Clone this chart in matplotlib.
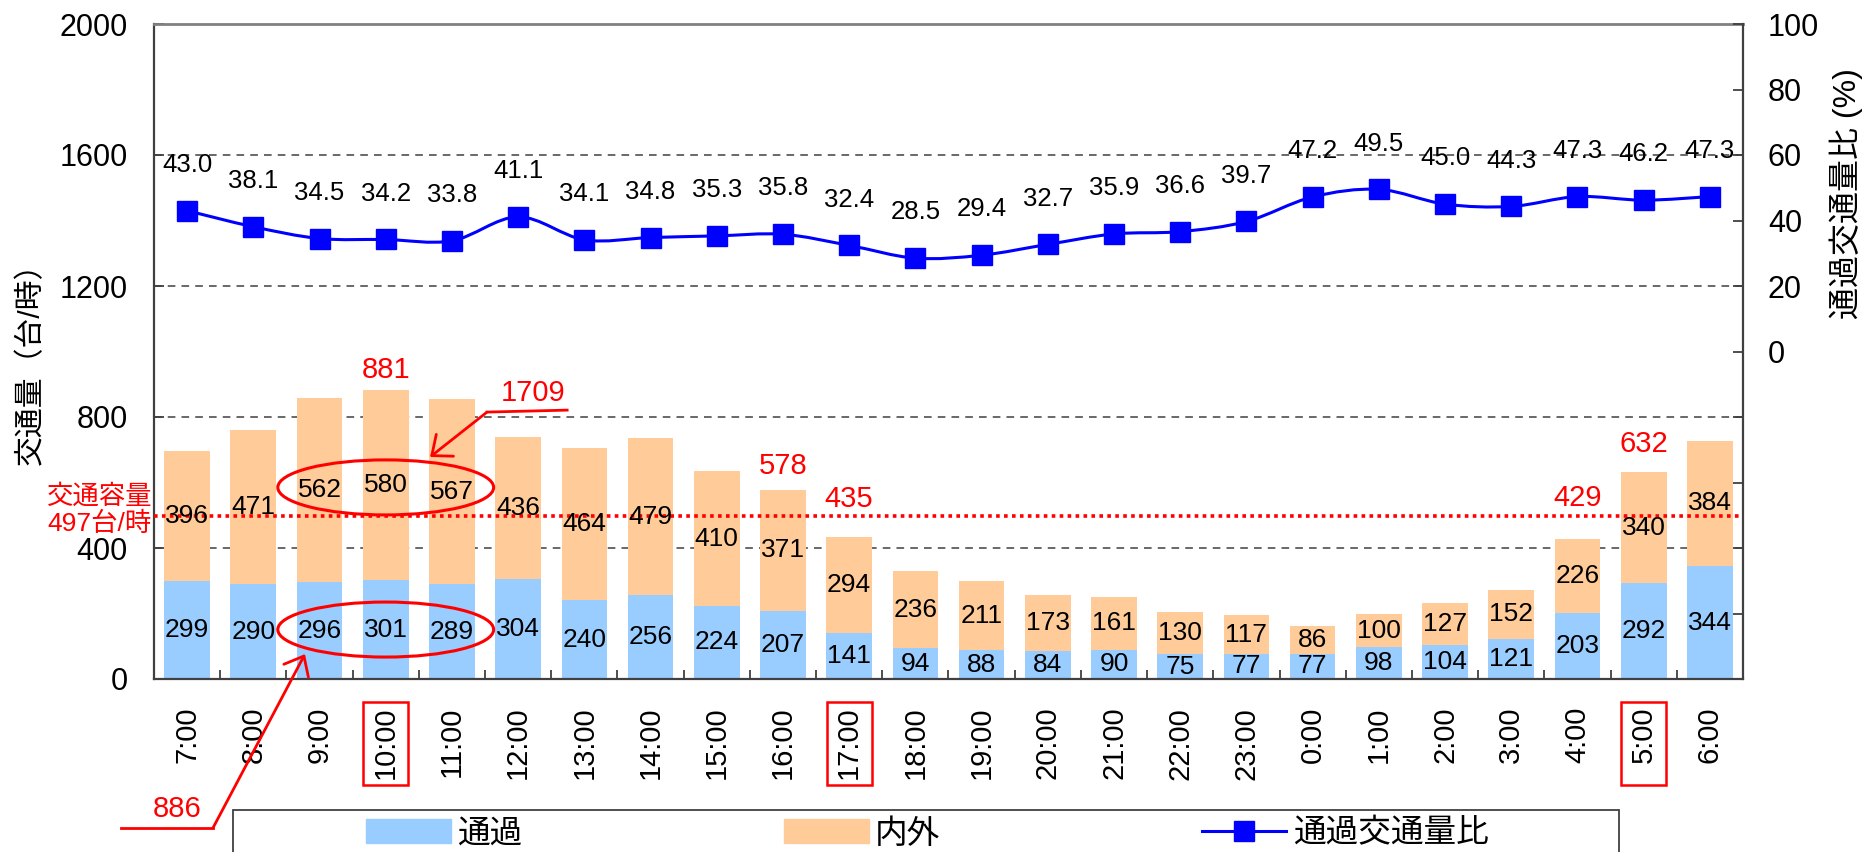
import matplotlib
matplotlib.use("Agg")
import matplotlib.pyplot as plt
import numpy as np
from matplotlib.patches import Ellipse, Rectangle, PathPatch, Patch
from matplotlib.path import Path
from matplotlib.lines import Line2D
from matplotlib.transforms import blended_transform_factory

plt.rcParams['font.family'] = ['Liberation Sans', 'Noto Sans CJK JP']

# data
hours = ['7:00', '8:00', '9:00', '10:00', '11:00', '12:00', '13:00', '14:00',
         '15:00', '16:00', '17:00', '18:00', '19:00', '20:00', '21:00', '22:00',
         '23:00', '0:00', '1:00', '2:00', '3:00', '4:00', '5:00', '6:00']
through = [299, 290, 296, 301, 289, 304, 240, 256, 224, 207, 141, 94,
           88, 84, 90, 75, 77, 77, 98, 104, 121, 203, 292, 344]
local = [396, 471, 562, 580, 567, 436, 464, 479, 410, 371, 294, 236,
         211, 173, 161, 130, 117, 86, 100, 127, 152, 226, 340, 384]
ratio = [43.0, 38.1, 34.5, 34.2, 33.8, 41.1, 34.1, 34.8, 35.3, 35.8, 32.4, 28.5,
         29.4, 32.7, 35.9, 36.6, 39.7, 47.2, 49.5, 45.0, 44.3, 47.3, 46.2, 47.3]
capacity = 497
total_hours = ['10:00', '16:00', '17:00', '4:00', '5:00']
boxed_hours = ['10:00', '17:00', '5:00']
group_hours = ['9:00', '10:00', '11:00']

c_through = '#99CCFF'
c_local = '#FFCC99'
c_line = '#0000FF'
red = '#FF0000'


def smooth_path(xs, ys):
    # excel-like smoothed line, drawn as bezier segments
    pts = np.column_stack([xs, ys]).astype(float)
    n = len(pts)
    verts = [pts[0]]
    codes = [Path.MOVETO]
    for i in range(n - 1):
        p0 = pts[max(i - 1, 0)]
        p1 = pts[i]
        p2 = pts[i + 1]
        p3 = pts[min(i + 2, n - 1)]
        verts += [p1 + (p2 - p0) / 6, p2 - (p3 - p1) / 6, p2]
        codes += [Path.CURVE4] * 3
    return Path(verts, codes)


fig = plt.figure(figsize=(18.65, 8.52), dpi=100)
ax = fig.add_subplot(111)
fig.subplots_adjust(left=154 / 1865, right=1743 / 1865, bottom=1 - 679 / 852, top=1 - 24 / 852)

x = np.arange(len(hours))
through = np.array(through)
local = np.array(local)
total = through + local

ax.bar(x, through, width=0.69, color=c_through, zorder=2)
ax.bar(x, local, width=0.69, bottom=through, color=c_local, zorder=2)

for i in range(len(hours)):
    ax.text(x[i], through[i] / 2, str(through[i]), ha='center', va='center', fontsize=19, zorder=5)
    ax.text(x[i], through[i] + local[i] / 2, str(local[i]), ha='center', va='center', fontsize=19, zorder=5)

ax.set_xlim(-0.5, len(hours) - 0.5)
ax.set_ylim(0, 2000)
ax.set_yticks(range(0, 2001, 400))
ax.set_xticks(x)
ax.set_xticklabels(hours, rotation=90)
ax.set_xticks(np.arange(0.5, len(hours) - 1, 1), minor=True)
ax.tick_params(axis='x', which='major', length=0, pad=20, labelsize=21)
ax.tick_params(axis='x', which='minor', direction='in', length=6.5, width=1.3, color='#404040')
ax.tick_params(axis='y', direction='in', length=7, width=1.3, pad=19, labelsize=22, color='#404040')
ax.set_axisbelow(True)
ax.yaxis.grid(True, linestyle=(0, (5, 4)), color='#404040', lw=1.1)

ax.spines['top'].set_color('#808080')
ax.spines['top'].set_linewidth(2)
for s in ['left', 'bottom']:
    ax.spines[s].set_color('#404040')
    ax.spines[s].set_linewidth(1.6)
ax.spines['right'].set_visible(False)

# capacity line
ax.axhline(capacity, color=red, lw=2.6, linestyle=(0, (1, 1.2)), zorder=4)
ax.text(-0.53, capacity + 20, '交通容量\n' + f'{capacity}台/時', color=red, fontsize=19,
        ha='right', va='center', linespacing=1.15)

# red totals above bars
total_gap = [5, 7, 17, 19, 10]
for h, g in zip(total_hours, total_gap):
    i = hours.index(h)
    ax.annotate(str(total[i]), (x[i], total[i]), xytext=(0, g), textcoords='offset points',
                ha='center', va='bottom', color=red, fontsize=21)

# group ellipses and sums
gi = [hours.index(h) for h in group_hours]
gx = np.mean(gi)
ax.add_patch(Ellipse((gx, 585), 3.26, 168, fill=False, ec=red, lw=2.2, zorder=6))
ax.add_patch(Ellipse((gx, 151), 3.26, 168, fill=False, ec=red, lw=2.2, zorder=6))
sum_local = int(local[gi].sum())
sum_through = int(through[gi].sum())

arrow = dict(arrowstyle='->,head_length=0.6,head_width=0.5', color=red, lw=2, mutation_scale=20,
             shrinkA=0, shrinkB=0)
ax.plot([gx + 1.53, gx + 2.74], [815, 821], color=red, lw=2, clip_on=False, zorder=6)
ax.annotate('', xy=(gx + 0.67, 678), xytext=(gx + 1.53, 815), arrowprops=arrow, annotation_clip=False)
ax.text(gx + 2.23, 832, str(sum_local), color=red, fontsize=21, ha='center', va='bottom')

ax.plot([gx - 4.0, gx - 2.61], [-455, -455], color=red, lw=2, clip_on=False, zorder=6)
ax.annotate('', xy=(gx - 1.22, 76), xytext=(gx - 2.61, -455), arrowprops=arrow, annotation_clip=False)
ax.text(gx - 3.15, -397, str(sum_through), color=red, fontsize=21, ha='center', va='center')

# boxes round the peak tick labels
tr = blended_transform_factory(ax.transData, fig.transFigure)
for h in boxed_hours:
    i = hours.index(h)
    ax.add_artist(Rectangle((x[i] - 0.34, 1 - 785 / 852), 0.68, (785 - 702) / 852, transform=tr,
                            fill=False, ec=red, lw=1.8, clip_on=False))

# ratio on right axis
ax2 = ax.twinx()
ax2.set_ylim(-100, 100)
ax2.set_yticks(range(-100, 101, 20))
ax2.set_yticklabels(['' if v < 0 else str(v) for v in range(-100, 101, 20)])
ax2.tick_params(axis='y', direction='in', length=7, width=1.3, pad=18, labelsize=22, color='#404040')
for s in ['left', 'top', 'bottom']:
    ax2.spines[s].set_visible(False)
ax2.spines['right'].set_color('#404040')
ax2.spines['right'].set_linewidth(1.6)

ax2.add_patch(PathPatch(smooth_path(x, ratio), fill=False, ec=c_line, lw=2.2, zorder=3))
ax2.plot(x, ratio, linestyle='none', marker='s', markersize=15, color=c_line, zorder=4)
for i, r in enumerate(ratio):
    ax2.annotate(f'{r:.1f}', (x[i], r), xytext=(0, 33), textcoords='offset points',
                 ha='center', va='center', fontsize=18.5)

# axis titles
fig.text(31 / 1865, 1 - 356 / 852, '交通量（台/時）', rotation=90, fontsize=21.5, ha='center', va='center')
fig.text(1846 / 1865, 1 - 194 / 852, '通過交通量比 (%)', rotation=90, fontsize=23, ha='center', va='center')

# legend with its own frame
handles = [Patch(color=c_through), Patch(color=c_local),
           Line2D([], [], color=c_line, lw=2.2, marker='s', markersize=15)]
fig.legend(handles, ['通過', '内外', '通過交通量比'], loc='center left', ncol=3,
           bbox_to_anchor=(366 / 1865, 1 - 834 / 852), frameon=False, fontsize=23.5,
           borderpad=0, borderaxespad=0, handlelength=2.6, handleheight=0.77,
           handletextpad=0.2, columnspacing=8.0)
fig.add_artist(Rectangle((233 / 1865, -0.05), (1619 - 233) / 1865, 0.05 + 1 - 810 / 852,
                         transform=fig.transFigure, fill=False, ec='#404040', lw=1.3))

fig.savefig('out.png', dpi=100)
